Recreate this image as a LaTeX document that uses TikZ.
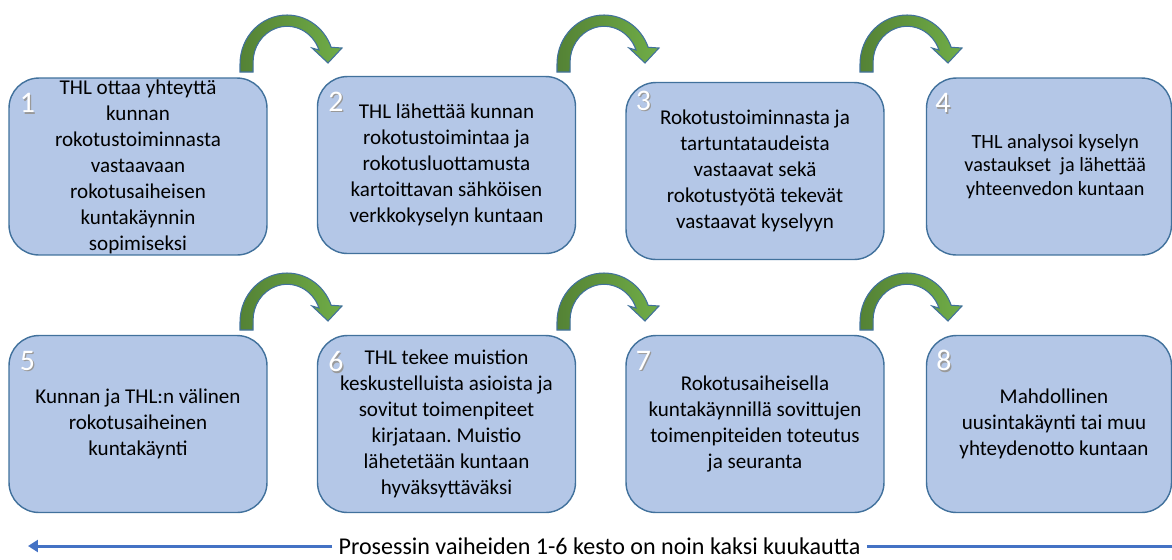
\documentclass[tikz,border=0pt]{standalone}
\usepackage{fontspec}
\setmainfont{Carlito}
\usetikzlibrary{arrows.meta}
\definecolor{boxfill}{RGB}{180,199,231}
\definecolor{boxedge}{RGB}{65,113,156}
\definecolor{leafdark}{RGB}{84,130,53}
\definecolor{leaflight}{RGB}{112,173,71}
\definecolor{lineblue}{RGB}{68,114,196}
\frenchspacing

\begin{document}
\begin{tikzpicture}[x=0.02cm,y=-0.02cm,
  stepbox/.style={draw=boxedge,fill=boxfill,line width=0.8pt,rounded corners=0.6cm,
    minimum width=5.16cm,minimum height=3.54cm,inner sep=0pt,align=center,
    font=\fontsize{12}{14.8}\selectfont},
  num/.style={text=white,font=\fontsize{17}{17}\selectfont,inner sep=0pt},
  numshade/.style={text=black!40,font=\fontsize{17}{17}\selectfont,inner sep=0pt},
  curvearrow/.style={draw=boxedge,line width=0.6pt,left color=leafdark,right color=leaflight},
  timeline/.style={draw=lineblue,line width=1.7pt}]
\useasboundingbox (0,0) rectangle (1172,559);

% green curved arrows between the steps
\foreach \ax/\ay in {240/72,557/72,860/72,240/330,557/330,860/330}{
  \path[curvearrow] (\ax,\ay) -- (\ax,\ay-8) arc[start angle=180,end angle=340,x radius=47,y radius=49]
    -- (\ax+102,\ay-24) -- (\ax+88,\ay-9) -- (\ax+72,\ay-24) -- (\ax+79,\ay-22)
    arc[start angle=340,end angle=180,x radius=34,y radius=36] -- (\ax+13,\ay) -- cycle;
}

% steps
\node[stepbox] (b1) at (138,166.5) {THL ottaa yhteyttä\\kunnan\\rokotustoiminnasta\\vastaavaan\\rokotusaiheisen\\kuntakäynnin\\sopimiseksi};
\node[stepbox] (b2) at (446.5,165) {THL lähettää kunnan\\rokotustoimintaa ja\\rokotusluottamusta\\kartoittavan sähköisen\\verkkokyselyn kuntaan};
\node[stepbox] (b3) at (755,171) {Rokotustoiminnasta ja\\tartuntataudeista\\vastaavat sekä\\rokotustyötä tekevät\\vastaavat kyselyyn};
\node[stepbox,minimum width=4.9cm,font=\fontsize{11.5}{13.3}\selectfont] (b4) at (1049,166.5) {\hspace*{0.25cm}THL analysoi kyselyn\\\hspace*{0.25cm}vastaukset\ \ ja lähettää\\\hspace*{0.25cm}yhteenvedon kuntaan};
\node[stepbox] (b5) at (138,424) {Kunnan ja THL:n välinen\\rokotusaiheinen\\kuntakäynti};
\node[stepbox] (b6) at (446.5,424) {THL tekee muistion\\keskustelluista asioista ja\\sovitut toimenpiteet\\kirjataan. Muistio\\lähetetään kuntaan\\hyväksyttäväksi};
\node[stepbox] (b7) at (755,424) {Rokotusaiheisella\\kuntakäynnillä sovittujen\\toimenpiteiden toteutus\\ja seuranta};
\node[stepbox,minimum width=4.9cm] (b8) at (1049,424) {\hspace*{0.2cm}Mahdollinen\\\hspace*{0.2cm}uusintakäynti tai muu\\\hspace*{0.2cm}yhteydenotto kuntaan};

% step numbers
\foreach \i/\dx/\dy in {1/19/26,2/19/26,3/18/19,4/17/26,5/19/26,6/19/27,7/18/26,8/18/26}{
  \node[numshade] at ([shift={(\dx+1.3,\dy+1.3)}]b\i.north west) {\i};
  \node[num] (n\i) at ([shift={(\dx,\dy)}]b\i.north west) {\i};
}

% duration
\node[inner xsep=3.5pt,inner ysep=0pt,font=\fontsize{13.7}{16}\selectfont] (note) at (599.5,546) {Prosessin vaiheiden 1-6 kesto on noin kaksi kuukautta};
\coordinate (tl) at (28,546);
\coordinate (tr) at (1172,546);
\draw[timeline,-{Triangle[length=0.2cm,width=0.24cm]}] (note.west) -- (tl);
\draw[timeline] (note.east) -- (tr);
\end{tikzpicture}
\end{document}
